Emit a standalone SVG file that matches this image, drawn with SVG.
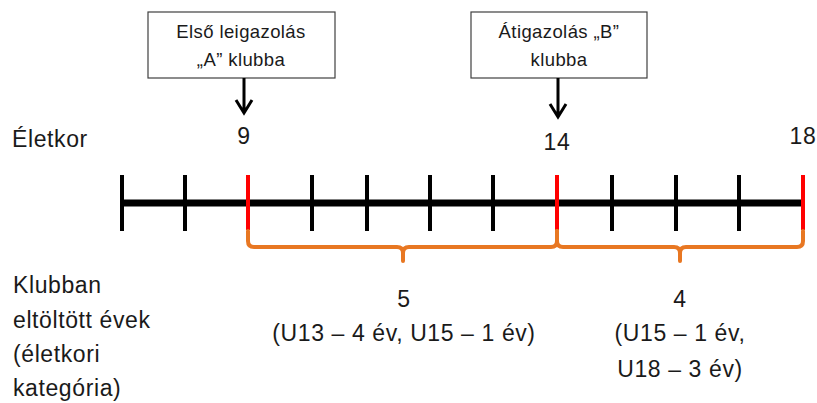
<svg xmlns="http://www.w3.org/2000/svg" width="817" height="403" viewBox="0 0 817 403">
<style>
text{font-family:"Liberation Sans",Arial,sans-serif;fill:#1a1a1a}
.lbl{font-size:23px;letter-spacing:0.6px}
.box{fill:#fff;stroke:#404040;stroke-width:1.2}
.btxt{font-size:18.5px;letter-spacing:0.4px}
.tick{stroke:#000;stroke-width:4}
.red{stroke:#ff0000;stroke-width:4}
.brace{fill:none;stroke:#E87722;stroke-width:4;stroke-linecap:round;stroke-linejoin:round}
.arr{fill:none;stroke:#000;stroke-width:3}
</style>
<g id="label-eletkor"><text class="lbl" x="12" y="147">Életkor</text></g>
<g id="box-a">
<rect class="box" x="148" y="12" width="187" height="66"/>
<text class="btxt" x="241" y="38" text-anchor="middle">Első leigazolás</text>
<text class="btxt" x="241" y="66" text-anchor="middle">„A” klubba</text>
</g>
<g id="box-b">
<rect class="box" x="471" y="12" width="176" height="66"/>
<text class="btxt" x="559" y="38" text-anchor="middle">Átigazolás „B”</text>
<text class="btxt" x="559" y="66" text-anchor="middle">klubba</text>
</g>
<g id="ages">
<text class="lbl" x="244" y="144" text-anchor="middle">9</text>
<text class="lbl" x="557" y="150" text-anchor="middle">14</text>
<text class="lbl" x="803" y="144" text-anchor="middle">18</text>
</g>
<g id="timeline">
<line x1="122" y1="203" x2="803" y2="203" stroke="#000" stroke-width="7"/>
<line class="tick" x1="122" y1="175" x2="122" y2="231"/>
<line class="tick" x1="185" y1="175" x2="185" y2="231"/>
<line class="tick" x1="312" y1="175" x2="312" y2="231"/>
<line class="tick" x1="367" y1="175" x2="367" y2="231"/>
<line class="tick" x1="430" y1="175" x2="430" y2="231"/>
<line class="tick" x1="493" y1="175" x2="493" y2="231"/>
<line class="tick" x1="612" y1="175" x2="612" y2="231"/>
<line class="tick" x1="676" y1="175" x2="676" y2="231"/>
<line class="tick" x1="739" y1="175" x2="739" y2="231"/>
<line class="red" x1="248" y1="175" x2="248" y2="230"/>
<line class="red" x1="557" y1="175" x2="557" y2="230"/>
<line class="red" x1="803" y1="175" x2="803" y2="230"/>
</g>
<g id="connectors">
<path class="arr" d="M244,78 V113 M236,100 L244,113 L252,100"/>
<path class="arr" d="M558,78 V117 M550,104 L558,117 L566,104"/>
<path class="brace" d="M248,231 V241 Q248,247 254,247 H397 Q403,247 403,253 V261 M403,253 Q403,247 409,247 H551 Q557,247 557,241 V231"/>
<path class="brace" d="M557,231 V241 Q557,247 563,247 H674 Q680,247 680,253 V261 M680,253 Q680,247 686,247 H797 Q803,247 803,241 V231"/>
</g>
<g id="label-klubban">
<text class="lbl" x="13" y="293">Klubban</text>
<text class="lbl" x="13" y="328">eltöltött évek</text>
<text class="lbl" x="13" y="362">(életkori</text>
<text class="lbl" x="13" y="396">kategória)</text>
</g>
<g id="span-a">
<text class="lbl" x="404" y="307" text-anchor="middle">5</text>
<text class="lbl" x="404" y="341" text-anchor="middle">(U13 – 4 év, U15 – 1 év)</text>
</g>
<g id="span-b">
<text class="lbl" x="680" y="307" text-anchor="middle">4</text>
<text class="lbl" x="680" y="341" text-anchor="middle">(U15 – 1 év,</text>
<text class="lbl" x="680" y="377" text-anchor="middle">U18 – 3 év)</text>
</g>
</svg>
